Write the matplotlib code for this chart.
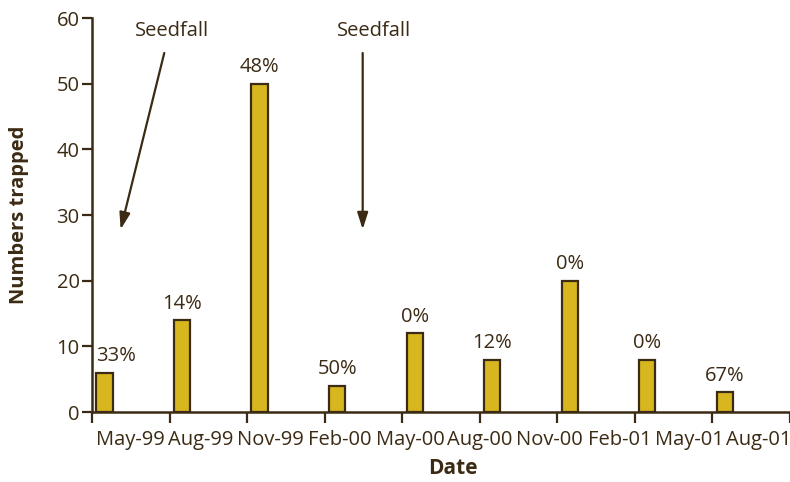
import matplotlib.pyplot as plt
import numpy as np

# data
dates = ["May-99", "Aug-99", "Nov-99", "Feb-00", "May-00",
         "Aug-00", "Nov-00", "Feb-01", "May-01", "Aug-01"]
counts = [6, 14, 50, 4, 12, 8, 20, 8, 3]
percent_labels = ["33%", "14%", "48%", "50%", "0%", "12%", "0%", "0%", "67%"]
seedfall_at = [0.36, 3.49]

BAR_COLOR = "#D8B620"
INK = "#3B2A14"

plt.rcParams["font.family"] = ["Open Sans", "DejaVu Sans"]
plt.rcParams["text.color"] = INK

fig = plt.figure(figsize=(7.9, 4.82), dpi=100)
ax = fig.add_axes([0.1165, 0.145, 0.8835, 0.8175])

x = np.arange(len(counts))
bars = ax.bar(x + 0.16, counts, width=0.21, color=BAR_COLOR,
              edgecolor=INK, linewidth=1.6)

for i, (rect, lab) in enumerate(zip(bars, percent_labels)):
    cx = rect.get_x() + rect.get_width() / 2
    if i == 0:
        cx += 0.15
    ax.text(cx, rect.get_height() + 1.0, lab, ha="center", va="bottom",
            fontsize=14.5, color=INK)

# seedfall arrows
arrow = dict(arrowstyle="-|>,head_length=1.0,head_width=0.32", color=INK, lw=1.6)
ax.annotate("", xy=(seedfall_at[0], 27.4), xytext=(0.94, 55.1), arrowprops=arrow)
ax.text(1.03, 58.0, "Seedfall", ha="center", va="center", fontsize=14.5)
ax.annotate("", xy=(seedfall_at[1], 27.4), xytext=(3.49, 55.1), arrowprops=arrow)
ax.text(3.64, 58.0, "Seedfall", ha="center", va="center", fontsize=14.5)

ax.set_xlim(0, 8.97)
ax.set_ylim(0, 60)
ax.set_yticks(np.arange(0, 61, 10))

ax.xaxis.remove_overlapping_locs = False
ax.set_xticks(np.arange(0, 10))
ax.set_xticklabels([])
label_pos = [0.5 + 0.9 * i for i in range(len(dates))]
ax.set_xticks(label_pos, minor=True)
ax.set_xticklabels(dates, minor=True, fontsize=14.5)
ax.tick_params(axis="x", which="minor", length=0, pad=13, colors=INK)
ax.tick_params(axis="x", which="major", length=8, width=1.6, direction="out", colors=INK)
ax.tick_params(axis="y", length=7, width=1.6, direction="out", colors=INK,
               labelsize=14.5, pad=2)

for side in ("top", "right"):
    ax.spines[side].set_visible(False)
for side in ("left", "bottom"):
    ax.spines[side].set_linewidth(1.8)
    ax.spines[side].set_color(INK)

fig.text(453 / 790, 1 - 469 / 482, "Date", ha="center", va="center",
         fontsize=15, fontweight="bold")
fig.text(19 / 790, 1 - 215 / 482, "Numbers trapped", ha="center", va="center",
         rotation=90, fontsize=14.5, fontweight="bold")

fig.savefig("out.png", dpi=100)
